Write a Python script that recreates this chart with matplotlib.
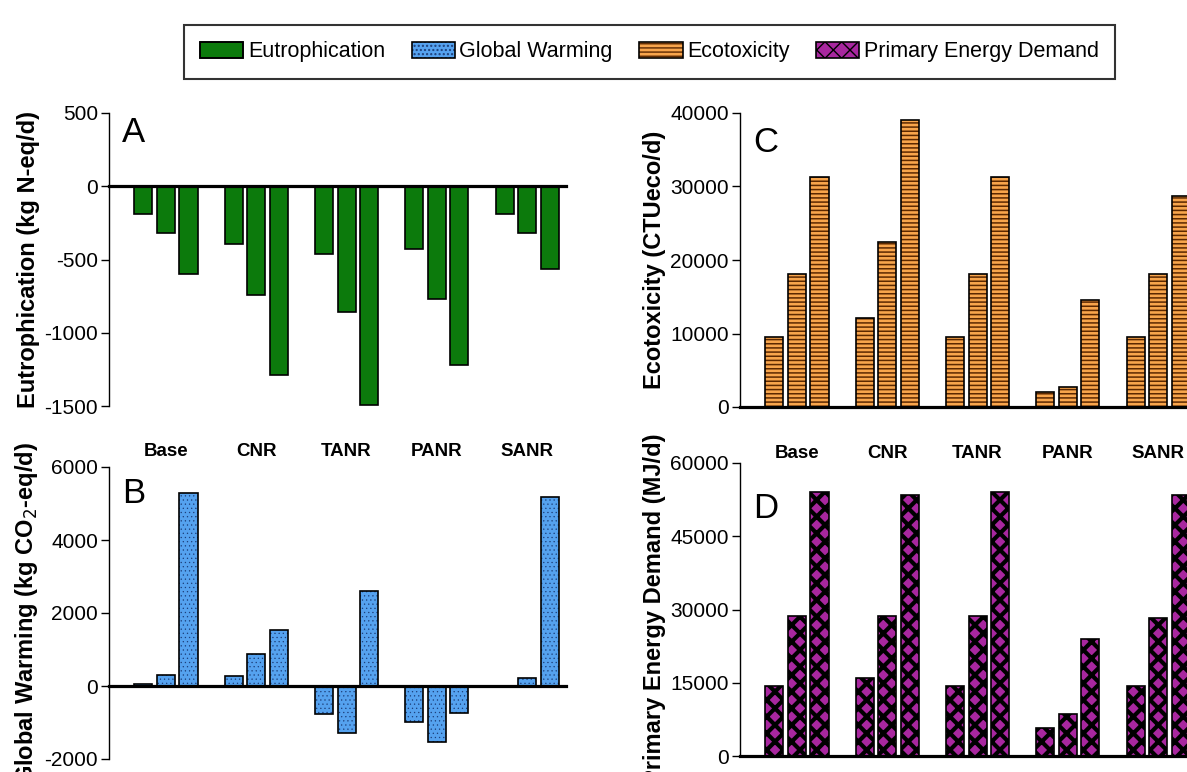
import matplotlib
matplotlib.use("Agg")
import matplotlib as mpl
import matplotlib.pyplot as plt
from matplotlib.patches import Patch
import numpy as np

plt.rcParams["font.family"] = ["Liberation Sans", "DejaVu Sans"]
plt.rcParams["axes.unicode_minus"] = False

# ---- data ----
categories = ["Base", "CNR", "TANR", "PANR", "SANR"]

eutrophication = [[-190, -320, -600],
                  [-395, -743, -1290],
                  [-465, -860, -1492],
                  [-425, -773, -1220],
                  [-190, -320, -568]]

global_warming = [[50, 315, 5290],
                  [270, 875, 1540],
                  [-765, -1290, 2605],
                  [-975, -1530, -730],
                  [0, 215, 5165]]

ecotoxicity = [[9510, 18120, 31260],
               [12140, 22510, 39090],
               [9510, 18120, 31260],
               [2040, 2720, 14590],
               [9510, 18120, 28680]]

energy_demand = [[14370, 28600, 54030],
                 [16070, 28600, 53420],
                 [14370, 28600, 54030],
                 [5760, 8680, 24000],
                 [14240, 28270, 53420]]

# ---- styles ----
styles = {
    "Eutrophication": dict(face="#0c7a0c", hatch=None, hcolor=None, hlw=1.0),
    "Global Warming": dict(face="#55a2ef", hatch="....", hcolor="#1d3f7a", hlw=0.4),
    "Ecotoxicity": dict(face="#f8a54c", hatch="----", hcolor="#5c2800", hlw=1.1),
    "Primary Energy Demand": dict(face="#a8279f", hatch="xx", hcolor="#000000", hlw=3.0),
}

W, H = 1187, 772
fig = plt.figure(figsize=(W / 100, H / 100), dpi=100)


def px_axes(x0, y_top, y_bot, width=457):
    return fig.add_axes([x0 / W, (H - y_bot) / H, width / W, (y_bot - y_top) / H])


def draw_bars(ax, data, st):
    vals = np.array(data)
    x = np.arange(len(categories))
    for j in range(vals.shape[1]):
        xs = x + (j - 1) * 0.25
        if st["hatch"] is None:
            ax.bar(xs, vals[:, j], 0.2, color=st["face"], edgecolor="black", linewidth=1.2, zorder=2)
        else:
            # hatch drawn in its own colour, black outline drawn on top
            with mpl.rc_context({"hatch.linewidth": st["hlw"]}):
                bars = ax.bar(xs, vals[:, j], 0.2, color=st["face"], edgecolor=st["hcolor"],
                              hatch=st["hatch"], linewidth=0, zorder=2)
            for b in bars:
                if hasattr(b, "set_hatch_linewidth"):
                    b.set_hatch_linewidth(st["hlw"])
            ax.bar(xs, vals[:, j], 0.2, fill=False, edgecolor="black", linewidth=1.2, zorder=3)


def style_axis(ax, ylim, yticks, ylabel, letter, letter_y, show_cats):
    ax.set_xlim(-0.63, 4.43)
    ax.set_ylim(*ylim)
    ax.set_yticks(yticks)
    for s in ["top", "right", "bottom"]:
        ax.spines[s].set_visible(False)
    ax.spines["left"].set_linewidth(1.0)
    ax.tick_params(axis="y", length=6, width=1.0, labelsize=15, pad=2)
    ax.axhline(0, color="black", linewidth=2.3, zorder=4, clip_on=False)
    if show_cats:
        ax.set_xticks(range(len(categories)))
        ax.set_xticklabels(categories, fontsize=13.5, fontweight="bold")
        ax.tick_params(axis="x", length=0, pad=27)
    else:
        ax.set_xticks([])
    ax.set_ylabel(ylabel, fontsize=17, fontweight="bold", labelpad=3)
    ax.text(0.028, letter_y, letter, transform=ax.transAxes, fontsize=25,
            ha="left", va="center")
    ax.patch.set_alpha(0)


# A - Eutrophication
axA = px_axes(109, 113, 406)
draw_bars(axA, eutrophication, styles["Eutrophication"])
style_axis(axA, (-1500, 500), [500, 0, -500, -1000, -1500],
           "Eutrophication (kg N-eq/d)", "A", 0.935, True)

# B - Global Warming
axB = px_axes(109, 467, 759)
draw_bars(axB, global_warming, styles["Global Warming"])
style_axis(axB, (-2000, 6000), [6000, 4000, 2000, 0, -2000],
           "Global Warming (kg CO$_2$-eq/d)", "B", 0.91, False)

# C - Ecotoxicity
axC = px_axes(740, 113, 407)
draw_bars(axC, ecotoxicity, styles["Ecotoxicity"])
style_axis(axC, (0, 40000), [0, 10000, 20000, 30000, 40000],
           "Ecotoxicity (CTUeco/d)", "C", 0.90, True)

# D - Primary Energy Demand
axD = px_axes(740, 463, 756)
draw_bars(axD, energy_demand, styles["Primary Energy Demand"])
style_axis(axD, (0, 60000), [0, 15000, 30000, 45000, 60000],
           "Primary Energy Demand (MJ/d)", "D", 0.846, False)

# legend: hatched patch + black outline overlaid
handles, labels = [], []
for name, st in styles.items():
    with mpl.rc_context({"hatch.linewidth": st["hlw"]}):
        if st["hatch"] is None:
            p = Patch(facecolor=st["face"], edgecolor="black", linewidth=1.2)
        else:
            p = Patch(facecolor=st["face"], edgecolor=st["hcolor"], hatch=st["hatch"],
                      linewidth=0)
    if hasattr(p, "set_hatch_linewidth"):
        p.set_hatch_linewidth(st["hlw"])
    outline = Patch(fill=False, edgecolor="black", linewidth=1.2)
    handles.append((p, outline))
    labels.append(name)

leg = fig.legend(handles, labels, loc="center", bbox_to_anchor=(649.5 / W, 1 - 52 / H),
                 ncol=4, fontsize=15.5, frameon=True, fancybox=False, shadow=False,
                 handlelength=2.0, handleheight=0.8, handletextpad=0.2,
                 columnspacing=1.25, borderpad=0.75)
leg.get_frame().set_edgecolor("black")
leg.get_frame().set_linewidth(1.5)

plt.savefig("out.png", dpi=100)
